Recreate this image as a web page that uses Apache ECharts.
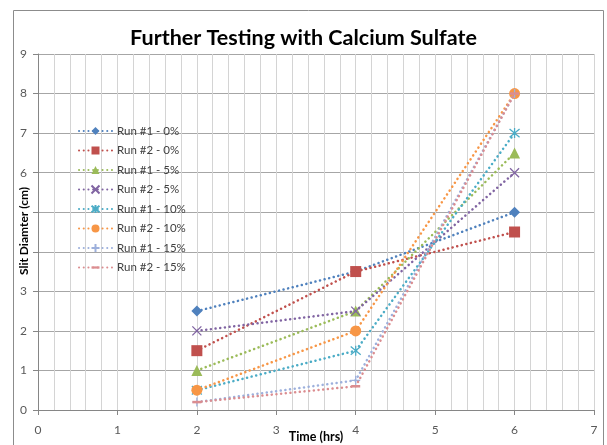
<!DOCTYPE html>
<html>
<head>
<meta charset="utf-8">
<script src="https://cdn.jsdelivr.net/npm/echarts@6/dist/echarts.min.js"></script>
<style>
  html, body { margin: 0; padding: 0; background: #fff; }
  #chart { width: 607px; height: 445px; }
</style>
</head>
<body>
<div id="chart"></div>
<script>
// hours at which the slit was measured
const times = [2, 4, 6];
const seriesNames = ['Run #1 - 0%', 'Run #2 - 0%', 'Run #1 - 5%', 'Run #2 - 5%',
  'Run #1 - 10%', 'Run #2 - 10%', 'Run #1 - 15%', 'Run #2 - 15%'];
// slit diameter (cm)
const run1_0 = [2.5, 3.5, 5];
const run2_0 = [1.5, 3.5, 4.5];
const run1_5 = [1, 2.5, 6.5];
const run2_5 = [2, 2.5, 6];
const run1_10 = [0.5, 1.5, 7];
const run2_10 = [0.5, 2, 8];
const run1_15 = [0.2, 0.75, 8];
const run2_15 = [0.2, 0.6, 8];
const yTicks = [0, 1, 2, 3, 4, 5, 6, 7, 8, 9];

const values = [run1_0, run2_0, run1_5, run2_5, run1_10, run2_10, run1_15, run2_15];
const colors = ['#4F81BD', '#C0504D', '#9BBB59', '#8064A2', '#4BACC6', '#F79646', '#9DB0DC', '#DB8D90'];
// marker per series; hollow ones are drawn with a stroke only
const marks = [
  { symbol: 'diamond', size: 11, hollow: false },
  { symbol: 'rect', size: 11, hollow: false },
  { symbol: 'triangle', size: 11, hollow: false },
  { symbol: 'path://M0,0L10,10M10,0L0,10', size: 9, hollow: true },
  { symbol: 'path://M0,0L10,10M10,0L0,10M5,-1L5,11', size: 10, hollow: true },
  { symbol: 'circle', size: 11, hollow: false },
  { symbol: 'path://M5,0L5,10M0,5L10,5', size: 9, hollow: true },
  // short dash; the two moves keep the box square so it stays flat in the legend too
  { symbol: 'path://M0,0M10,10M0,3.6L10,3.6L10,6.4L0,6.4Z', size: 9, hollow: false }
];

const font = 'Lato, "Liberation Sans", sans-serif';

const series = seriesNames.map((name, i) => ({
  name: name,
  type: 'line',
  data: times.map((t, j) => [t, values[i][j]]),
  symbol: marks[i].symbol,
  symbolSize: marks[i].size,
  showAllSymbol: true,
  lineStyle: { color: colors[i], width: 2.5, type: [0.1, 4.6], cap: 'round' },
  itemStyle: marks[i].hollow
    ? { color: 'none', borderColor: colors[i], borderWidth: 1.3 }
    : { color: colors[i] },
  z: 3 + i
}));

const chart = echarts.init(document.getElementById('chart'));
chart.setOption({
  animation: false,
  title: {
    text: 'Further Testing with Calcium Sulfate',
    left: 'center',
    top: 22,
    textStyle: { fontFamily: font, fontSize: 21.5, fontWeight: 'bold', color: '#000' }
  },
  legend: {
    orient: 'vertical',
    left: 73,
    top: 119,
    itemWidth: 33,
    itemHeight: 10,
    itemGap: 5.5,
    textStyle: { fontFamily: font, fontSize: 11.5, color: '#404040', lineHeight: 14 },
    data: seriesNames
  },
  grid: { left: 38, right: 13, top: 54, bottom: 35 },
  xAxis: {
    type: 'value',
    min: 0, max: 7, interval: 1,
    axisLine: { lineStyle: { color: '#868686' } },
    axisTick: { show: true, length: 5, lineStyle: { color: '#868686' } },
    axisLabel: { fontFamily: font, fontSize: 12, color: '#595959', margin: 14 },
    splitLine: { show: true, lineStyle: { color: '#d4d4d4' } },
    minorTick: { show: false, splitNumber: 5 },
    minorSplitLine: { show: true, lineStyle: { color: '#d4d4d4' } }
  },
  yAxis: {
    type: 'value',
    min: yTicks[0], max: yTicks[yTicks.length - 1], interval: 1,
    axisLine: { show: true, lineStyle: { color: '#868686' } },
    axisTick: { show: true, length: 5, lineStyle: { color: '#868686' } },
    axisLabel: { fontFamily: font, fontSize: 12, color: '#595959', margin: 11 },
    splitLine: { show: true, lineStyle: { color: '#a6a6a6' } }
  },
  graphic: [
    {
      type: 'rect',
      shape: { x: 13.5, y: 10.5, width: 590, height: 445 },
      style: { fill: 'none', stroke: '#8c8c8c', lineWidth: 1 },
      z: 100
    },
    {
      // axis title sits on top of the 4 and 5 labels, as in the source
      type: 'text',
      x: 24, y: 231,
      rotation: Math.PI / 2,
      style: {
        text: 'Slit Diamter (cm)',
        fontFamily: font, fontSize: 12, fontWeight: 'bold', fill: '#000',
        align: 'center', verticalAlign: 'middle',
        backgroundColor: '#fff', padding: [1, 3]
      },
      z: 100
    },
    {
      type: 'text',
      x: 316, y: 437,
      style: {
        text: 'Time (hrs)',
        fontFamily: font, fontSize: 12.5, fontWeight: 'bold', fill: '#000',
        align: 'center', verticalAlign: 'middle'
      },
      z: 100
    }
  ],
  series: series
});
</script>
</body>
</html>
